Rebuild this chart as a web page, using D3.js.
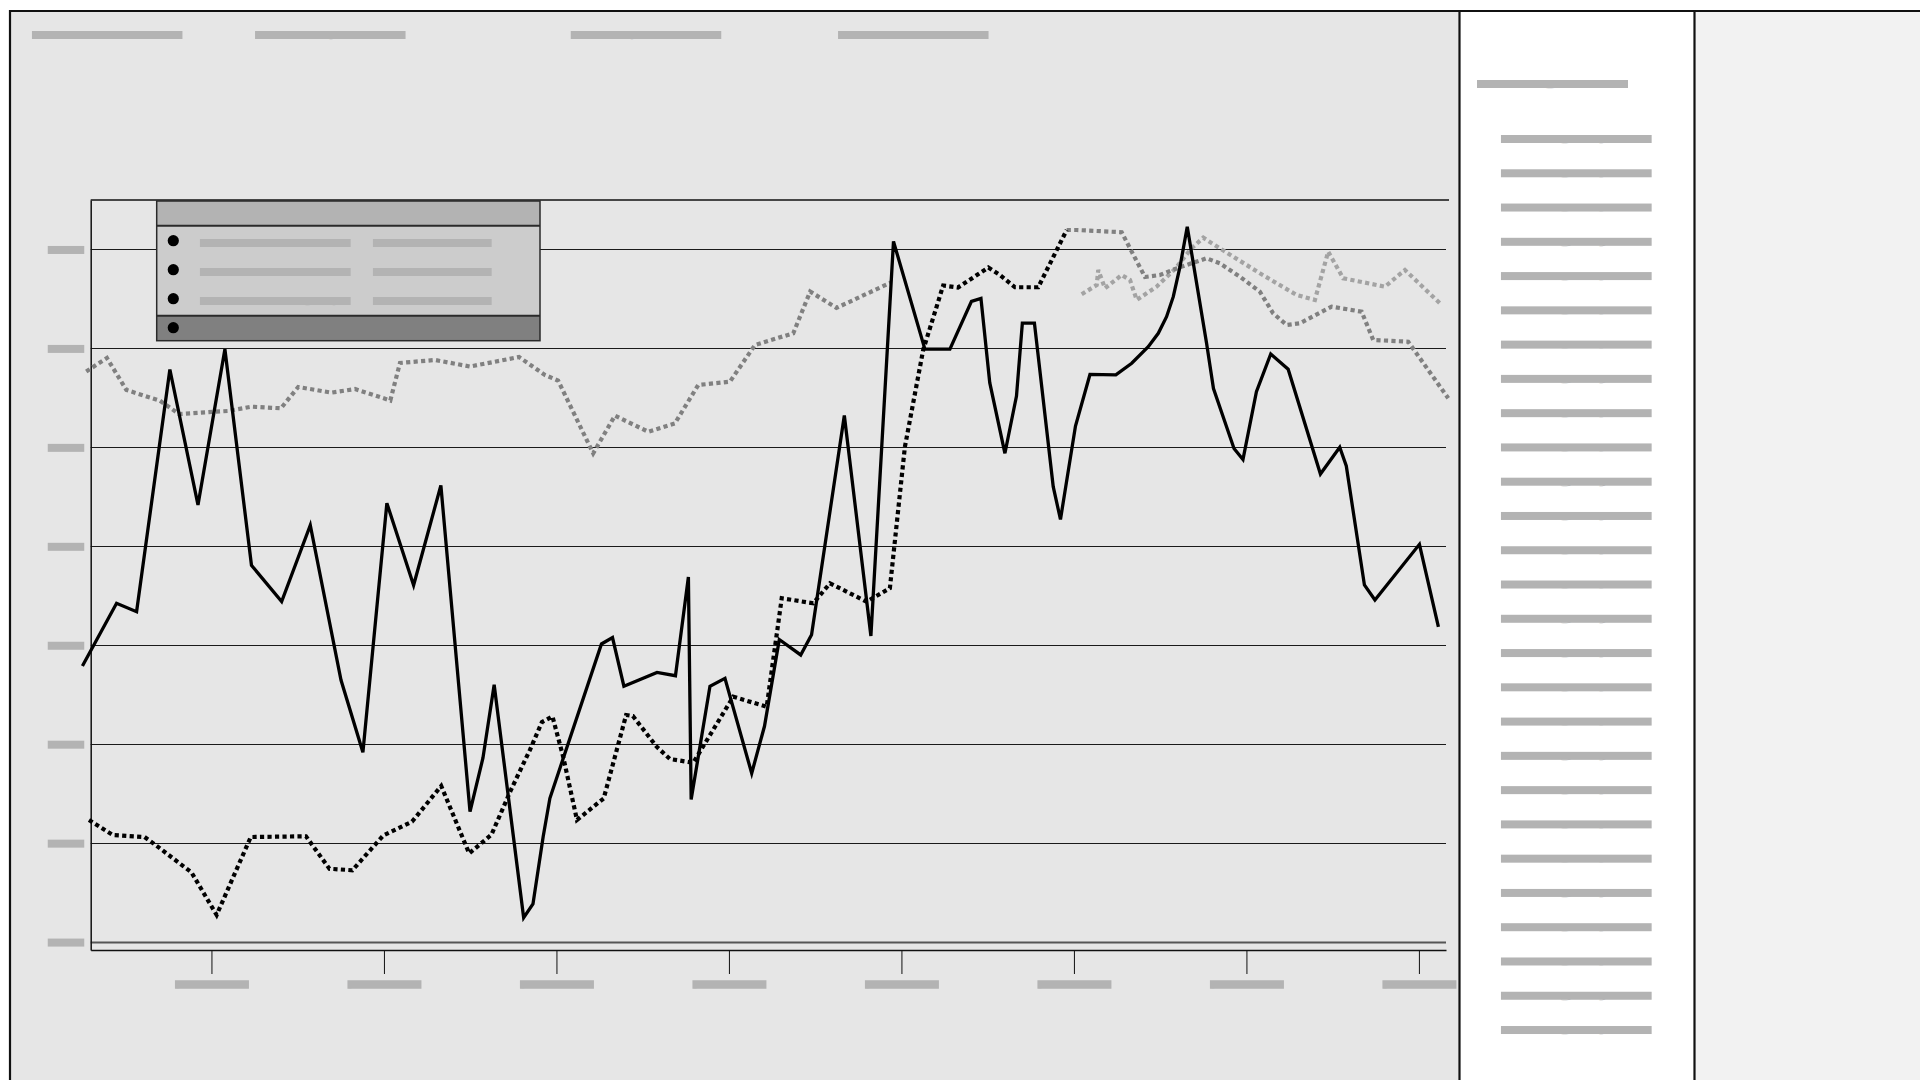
<!DOCTYPE html>
<html><head><meta charset="utf-8">
<script src="https://cdn.jsdelivr.net/npm/d3@7"></script>
<style>html,body{margin:0;padding:0;background:#fff;} svg{display:block;} text{text-rendering:geometricPrecision;}</style>
</head><body><svg id="c" width="1920" height="1080"></svg>
<script>
// ---------------- data ----------------
const headerLabels = ["Overview", "Monthly index", "Comparison", "Forecast"];
const xTickYears = [2014, 2015, 2016, 2017, 2018, 2019, 2020, 2021];
const yTickValues = [0, 10, 20, 30, 40, 50, 60, 70];
const legendTitle = "Legend";
const legendLabels = ["Index (solid)", "Benchmark (dotted)", "Reference (grey)"];
const legendValues = ["31.9", "72.0", "66.7"];
const legendFooter = "Projection";
const sideTitle = "Categories";
const sideItems = ["Category 01","Category 02","Category 03","Category 04","Category 05","Category 06","Category 07","Category 08","Category 09","Category 10","Category 11","Category 12","Category 13","Category 14","Category 15","Category 16","Category 17","Category 18","Category 19","Category 20","Category 21","Category 22","Category 23","Category 24","Category 25","Category 26","Category 27"];

const solidSeries = [
[2013.252,27.90],[2013.450,34.24],[2013.566,33.39],[2013.759,57.87],[2013.922,44.18],[2014.078,59.92],[2014.232,38.08],[2014.407,34.42],[2014.573,42.13],[2014.751,26.49],[2014.878,19.18],[2015.017,44.36],[2015.172,36.07],[2015.330,46.15],[2015.499,13.18],[2015.574,18.61],[2015.639,26.01],[2015.810,2.46],[2015.864,3.85],[2015.923,10.65],[2015.962,14.53],[2016.261,30.13],[2016.325,30.78],[2016.391,25.86],[2016.583,27.25],[2016.690,26.92],[2016.765,36.90],[2016.781,14.41],[2016.890,25.86],[2016.977,26.65],[2017.132,17.06],[2017.206,21.81],[2017.292,30.58],[2017.416,29.02],[2017.479,31.07],[2017.669,53.22],[2017.823,30.94],[2017.954,70.81],[2018.136,59.92],[2018.281,59.92],[2018.406,64.76],[2018.461,65.05],[2018.512,56.54],[2018.600,49.40],[2018.667,55.19],[2018.701,62.55],[2018.771,62.55],[2018.880,46.03],[2018.922,42.71],[2019.009,52.16],[2019.093,57.37],[2019.243,57.32],[2019.335,58.50],[2019.431,60.18],[2019.489,61.53],[2019.537,63.21],[2019.576,65.23],[2019.615,68.26],[2019.657,72.30],[2019.769,60.52],[2019.809,55.95],[2019.928,49.89],[2019.980,48.77],[2020.058,55.63],[2020.141,59.44],[2020.242,57.89],[2020.429,47.31],[2020.541,50.01],[2020.579,48.12],[2020.684,36.09],[2020.745,34.57],[2021.003,40.20],[2021.113,31.85]
];
const blackDottedSeries = [
[2013.290,12.34],[2013.429,10.82],[2013.612,10.62],[2013.663,9.98],[2013.884,7.05],[2014.030,2.74],[2014.228,10.62],[2014.548,10.69],[2014.684,7.41],[2014.817,7.26],[2014.997,10.79],[2015.163,12.17],[2015.332,15.78],[2015.494,8.96],[2015.623,10.85],[2015.736,15.37],[2015.846,19.41],[2015.916,22.24],[2015.977,22.80],[2016.039,18.74],[2016.119,12.34],[2016.274,14.52],[2016.404,22.95],[2016.443,22.85],[2016.581,19.75],[2016.658,18.50],[2016.793,18.13],[2017.025,24.80],[2017.219,23.79],[2017.306,34.75],[2017.489,34.24],[2017.586,36.26],[2017.798,34.40],[2017.933,35.76],[2018.020,50.04],[2018.126,59.84],[2018.242,66.36],[2018.328,66.16],[2018.504,68.18],[2018.571,67.42],[2018.658,66.18],[2018.793,66.18],[2018.958,71.97]
];
const greyDottedSeries = [
[2013.274,57.67],[2013.394,59.03],[2013.507,55.80],[2013.701,54.72],[2013.812,53.37],[2014.096,53.68],[2014.233,54.11],[2014.403,53.95],[2014.503,56.10],[2014.696,55.53],[2014.832,55.90],[2015.037,54.74],[2015.093,58.53],[2015.296,58.83],[2015.499,58.17],[2015.783,59.13],[2015.933,57.32],[2016.010,56.74],[2016.213,49.40],[2016.339,53.20],[2016.532,51.58],[2016.687,52.43],[2016.822,56.30],[2017.006,56.64],[2017.151,60.35],[2017.373,61.53],[2017.471,65.75],[2017.623,64.09],[2017.939,66.66]
];
const projectionSeries = [
[2018.958,71.97],[2019.016,71.97],[2019.277,71.74],[2019.335,69.78],[2019.412,67.22],[2019.499,67.42],[2019.586,68.03],[2019.682,68.60],[2019.769,69.11],[2019.846,68.60],[2019.962,67.25],[2020.078,65.73],[2020.155,63.55],[2020.233,62.37],[2020.310,62.54],[2020.494,64.22],[2020.668,63.71],[2020.735,60.85],[2020.938,60.68],[2021.170,54.96]
];
const lightGreySeries = [
[2019.045,65.47],[2019.132,66.41],[2019.141,67.93],[2019.180,66.08],[2019.277,67.42],[2019.325,66.92],[2019.364,64.90],[2019.479,66.24],[2019.586,68.03],[2019.682,70.12],[2019.750,71.19],[2019.846,70.12],[2020.078,67.59],[2020.291,65.40],[2020.397,64.90],[2020.474,69.78],[2020.561,67.09],[2020.803,66.24],[2020.919,67.93],[2021.132,64.39]
];

// ---------------- drawing ----------------
const svg = d3.select('#c');
const BAR = '#b3b3b3';
function textBar(g, cx, cy, w, h, label, fill) {
  fill = fill || BAR;
  g.append('rect').attr('x', cx - w / 2).attr('y', cy - h / 2).attr('width', w).attr('height', h).attr('fill', fill);
  g.append('text').attr('x', cx).attr('y', cy + h * 0.35).attr('text-anchor', 'middle')
    .attr('font-family', 'DejaVu Sans').attr('font-size', h - 2).attr('fill', fill)
    .attr('textLength', w - 4).attr('lengthAdjust', 'spacingAndGlyphs').text(label);
}

// panels
svg.append('rect').attr('x', 10).attr('y', 11).attr('width', 1449.5).attr('height', 1069).attr('fill', '#e6e6e6');
svg.append('rect').attr('x', 1460).attr('y', 11).attr('width', 234.5).attr('height', 1069).attr('fill', '#ffffff');
svg.append('rect').attr('x', 1694.5).attr('y', 11).attr('width', 225.5).attr('height', 1069).attr('fill', '#f2f2f2');
const frame = svg.append('g').attr('stroke', '#111').attr('stroke-width', 2.2);
frame.append('line').attr('x1', 9).attr('x2', 1920).attr('y1', 11).attr('y2', 11);
frame.append('line').attr('x1', 10).attr('x2', 10).attr('y1', 10).attr('y2', 1080);
frame.append('line').attr('x1', 1459.5).attr('x2', 1459.5).attr('y1', 10).attr('y2', 1080);
frame.append('line').attr('x1', 1694.5).attr('x2', 1694.5).attr('y1', 10).attr('y2', 1080);

// header text bars
const hdr = svg.append('g');
const hdrCenters = [107.2, 330.3, 646, 913.3];
headerLabels.forEach((t, i) => textBar(hdr, hdrCenters[i], 35, 150.5, 8, t));

// side panel
const side = svg.append('g');
textBar(side, 1552.5, 84, 151, 8, sideTitle);
sideItems.forEach((t, i) => textBar(side, 1576.3, 139 + i * 34.27, 150.7, 8, t));

// scales
const x = d3.scaleLinear().domain([2013.3, 2021.157]).range([90.7, 1446]);
const y = d3.scaleLinear().domain([-0.8, 75]).range([950, 200]);

const plot = svg.append('g');
// top frame line
plot.append('line').attr('x1', 90.7).attr('x2', 1449).attr('y1', y(75)).attr('y2', y(75))
  .attr('stroke', '#111').attr('stroke-width', 1.5);
// gridlines
plot.append('g').selectAll('line').data(yTickValues).join('line')
  .attr('x1', 90.7).attr('x2', 1446)
  .attr('y1', d => Math.round(y(d)) + 0.5).attr('y2', d => Math.round(y(d)) + 0.5)
  .attr('stroke', d => d === 0 ? '#555' : '#1a1a1a')
  .attr('stroke-width', d => d === 0 ? 2.2 : 1.2);

// y axis
const yAxisG = plot.append('g').attr('transform', 'translate(90.7,0)')
  .call(d3.axisLeft(y).tickValues(yTickValues).tickSize(0).tickSizeOuter(0).tickFormat(d3.format('d')));
yAxisG.select('.domain').attr('stroke', '#111').attr('stroke-width', 1.5);
yAxisG.selectAll('.tick text').remove();
yAxisG.selectAll('.tick').each(function(d) {
  textBar(d3.select(this), -24.7, 0, 36.5, 8, String(d));
});

// x axis
const xAxisG = plot.append('g').attr('transform', 'translate(0,950)')
  .call(d3.axisBottom(x).tickValues(xTickYears).tickSize(24).tickSizeOuter(0).tickFormat(d3.format('d')));
xAxisG.select('.domain').attr('stroke', '#111').attr('stroke-width', 1.6);
xAxisG.selectAll('.tick line').attr('stroke', '#111').attr('stroke-width', 1);
xAxisG.selectAll('.tick text').remove();
xAxisG.selectAll('.tick').each(function(d) {
  textBar(d3.select(this), 0, 34.5, 74, 8.5, 'Jan ' + d);
});

// lines
const line = d3.line().x(d => x(d[0])).y(d => y(d[1]));
const series = [
  { data: greyDottedSeries, color: '#808080', width: 4.2, dash: '4.2 3.3' },
  { data: lightGreySeries, color: '#a3a3a3', width: 4.2, dash: '4.2 3.3' },
  { data: projectionSeries, color: '#808080', width: 4.2, dash: '4.2 3.3' },
  { data: blackDottedSeries, color: '#000', width: 4.2, dash: '4.2 3.3' },
  { data: solidSeries, color: '#000', width: 3.3, dash: null }
];
plot.append('g').selectAll('path').data(series).join('path')
  .attr('d', s => line(s.data))
  .attr('fill', 'none')
  .attr('stroke', s => s.color)
  .attr('stroke-width', s => s.width)
  .attr('stroke-dasharray', s => s.dash)
  .attr('stroke-linejoin', 'miter');

// legend
const lg = svg.append('g');
const L = { x0: 156.7, x1: 540, y0: 201, y1: 225.7, y2: 315.7, y3: 340.7 };
lg.append('rect').attr('x', L.x0).attr('y', L.y0).attr('width', L.x1 - L.x0).attr('height', L.y1 - L.y0).attr('fill', '#b3b3b3');
lg.append('rect').attr('x', L.x0).attr('y', L.y1).attr('width', L.x1 - L.x0).attr('height', L.y2 - L.y1).attr('fill', '#cccccc');
lg.append('rect').attr('x', L.x0).attr('y', L.y2).attr('width', L.x1 - L.x0).attr('height', L.y3 - L.y2).attr('fill', '#808080');
lg.append('text').attr('x', 348).attr('y', 216).attr('text-anchor', 'middle').attr('font-family', 'DejaVu Sans')
  .attr('font-size', 8).attr('fill', '#b3b3b3').text(legendTitle);
lg.append('rect').attr('x', L.x0).attr('y', L.y0).attr('width', L.x1 - L.x0).attr('height', L.y3 - L.y0)
  .attr('fill', 'none').attr('stroke', '#2a2a2a').attr('stroke-width', 1.5);
[L.y1, L.y2].forEach(yy => lg.append('line').attr('x1', L.x0).attr('x2', L.x1).attr('y1', yy).attr('y2', yy)
  .attr('stroke', '#2a2a2a').attr('stroke-width', 2));
legendLabels.forEach((t, i) => {
  const cy = 240.7 + i * 29;
  lg.append('circle').attr('cx', 173.3).attr('cy', cy).attr('r', 5.6).attr('fill', '#000');
  textBar(lg, 275.3, cy + 2.3, 150.7, 8, t);
  textBar(lg, 432.3, cy + 2.3, 118.7, 8, legendValues[i]);
});
lg.append('circle').attr('cx', 173.3).attr('cy', 327.7).attr('r', 5.6).attr('fill', '#000');
lg.append('text').attr('x', 200).attr('y', 331).attr('font-family', 'DejaVu Sans')
  .attr('font-size', 8).attr('fill', '#808080').text(legendFooter);
</script>
</body></html>
